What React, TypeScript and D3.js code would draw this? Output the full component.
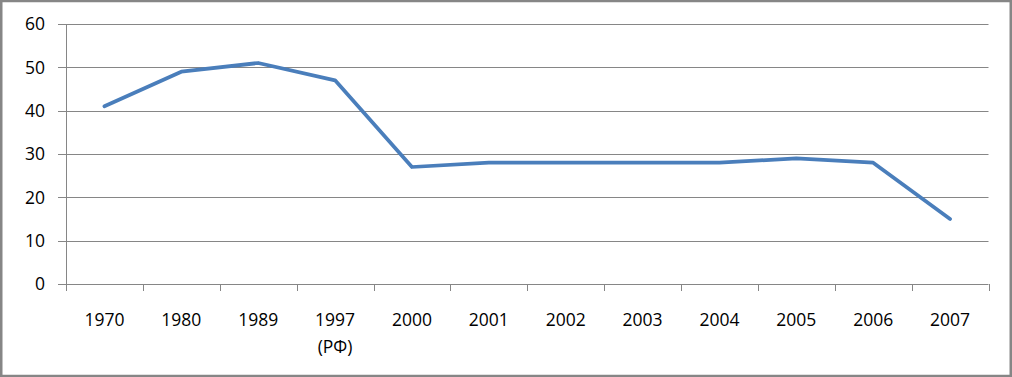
import React from "react";
import * as d3 from "d3";

const categories: string[][] = [
  ["1970"], ["1980"], ["1989"], ["1997", "(РФ)"], ["2000"], ["2001"],
  ["2002"], ["2003"], ["2004"], ["2005"], ["2006"], ["2007"],
];
const values: number[] = [41, 49, 51, 47, 27, 28, 28, 28, 28, 29, 28, 15];
const yTicks: number[] = [0, 10, 20, 30, 40, 50, 60];

const W = 1012;
const H = 377;
const left = 66;
const right = 988.5;
const top = 24;
const bottom = 284;
const font = "'Open Sans', sans-serif";
const gridColor = "#868686";
const fs = 17.5;

export default function App() {
  const keys = categories.map((c) => c.join(" "));
  const x = d3.scaleBand<string>().domain(keys).range([left, right]).padding(0);
  const y = d3.scaleLinear().domain([0, 60]).range([bottom, top]);
  const line = d3
    .line<number>()
    .x((_, i) => (x(keys[i]) as number) + x.bandwidth() / 2)
    .y((d) => y(d));

  const tickXs = keys.map((k) => x(k) as number).concat([right]);

  return (
    <svg
      width={W}
      height={H}
      style={{ position: "fixed", left: 0, top: 0, background: "#fff" }}
    >
      <rect x={1.25} y={1} width={W - 2.5} height={H - 2} fill="#fff" stroke={gridColor} strokeWidth={2.5} />
      {yTicks.map((t) => (
        <g key={t}>
          <line
            x1={left - 8}
            x2={right}
            y1={Math.round(y(t)) + 0.5}
            y2={Math.round(y(t)) + 0.5}
            stroke={gridColor}
            strokeWidth={1}
          />
          <text
            x={45}
            y={y(t)}
            dy="0.36em"
            textAnchor="end"
            fontFamily={font}
            fontSize={fs}
            fill="#000"
          >
            {t}
          </text>
        </g>
      ))}
      <line x1={left + 0.5} x2={left + 0.5} y1={top} y2={bottom} stroke={gridColor} strokeWidth={1} />
      {tickXs.map((tx, i) => (
        <line
          key={i}
          x1={Math.round(tx) + 0.5}
          x2={Math.round(tx) + 0.5}
          y1={bottom}
          y2={bottom + 7}
          stroke={gridColor}
          strokeWidth={1}
        />
      ))}
      {categories.map((c, i) => (
        <text
          key={keys[i]}
          x={(x(keys[i]) as number) + x.bandwidth() / 2}
          y={326}
          textAnchor="middle"
          fontFamily={font}
          fontSize={fs}
          fill="#000"
        >
          {c.map((s, j) => (
            <tspan key={j} x={(x(keys[i]) as number) + x.bandwidth() / 2} dy={j === 0 ? 0 : 27}>
              {s}
            </tspan>
          ))}
        </text>
      ))}
      <path
        d={line(values) || ""}
        fill="none"
        stroke="#4a7ebb"
        strokeWidth={3.75}
        strokeLinejoin="round"
        strokeLinecap="round"
      />
    </svg>
  );
}
